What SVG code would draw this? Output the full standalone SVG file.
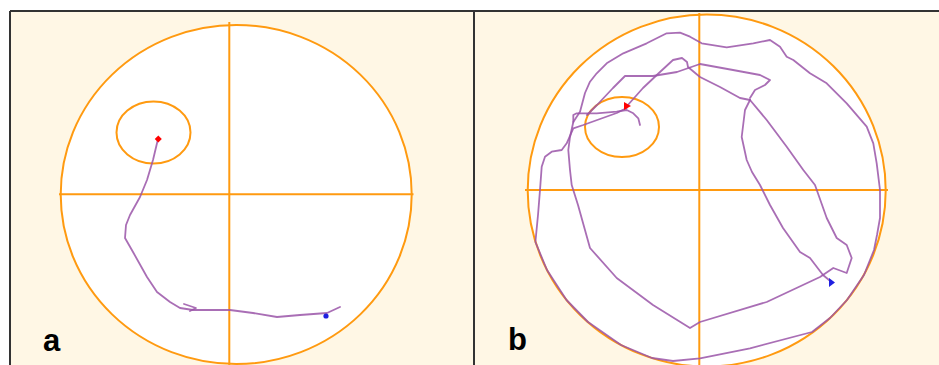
<svg xmlns="http://www.w3.org/2000/svg" width="939" height="365" viewBox="0 0 939 365">
<style>
.bg{fill:#FFF7E5}
.frame{stroke:#333;stroke-width:2;fill:none}
.pool{fill:#FFFFFF;stroke:#FF9A10;stroke-width:2}
.cross{stroke:#FF9A10;stroke-width:2;fill:none}
.plat{fill:none;stroke:#FF9A10;stroke-width:2}
.track{fill:none;stroke:#9A55A8;stroke-width:1.8;stroke-linejoin:round;stroke-linecap:round;opacity:0.85}
.lbl{font-family:"Liberation Sans",Arial,sans-serif;font-weight:bold;font-size:31px;fill:#000}
</style>
<rect x="0" y="0" width="939" height="365" fill="#FFFFFF"/>
<rect class="bg" x="10" y="11" width="929" height="354"/>

<g id="panel-a">
  <ellipse class="pool" cx="236.2" cy="194.5" rx="175.5" ry="169.5"/>
  <line class="cross" x1="59" y1="194.3" x2="413.5" y2="194.3"/>
  <line class="cross" x1="229.3" y1="22" x2="229.3" y2="365"/>
  <ellipse class="plat" cx="153.5" cy="132.5" rx="37" ry="31"/>
  <path class="track" d="M158,139 L153,160 L147,180 L140,197 L130,215 L126,225 L125,238 L133,252 L147,277 L157,292 L170,302 L180,308 L193,310 L230,310 L253,313 L277,317 L300,315 L327,313 L340,307"/>
  <path class="track" d="M184,304 L196,308 L190,311"/>
  <rect x="155.8" y="136.5" width="5" height="5" fill="#FF0000" transform="rotate(45 158.3 139)"/>
  <circle cx="326" cy="316" r="2.6" fill="#2020E0"/>
  <text class="lbl" x="43" y="351">a</text>
</g>

<g id="panel-b">
  <ellipse class="pool" cx="706.7" cy="190.5" rx="179" ry="176"/>
  <line class="cross" x1="525" y1="190" x2="888" y2="190"/>
  <line class="cross" x1="699.3" y1="13" x2="699.3" y2="365"/>
  <ellipse class="plat" cx="622" cy="127" rx="37" ry="30"/>
  <path class="track" d="M831.7,282.3 L823,275 L810,258 L800,252 L783,228 L770,205 L760,185 L752,172 L746.7,160 L741.7,137 L745,110 L750,100"/>
  <path class="track" d="M750,100 L766.7,120 L786.7,146.7 L803.3,170 L815,185 L826.7,218 L836.7,238 L846.7,245 L851.7,258 L846.7,273 L833.3,268 L820,277 L766.7,302 L700,322 L690,328 L653,305 L616.7,278 L590,248 L578,205 L571.7,185 L570,170 L568.3,150 L570,137 L573.3,122 L573.3,115 L576.7,113.3 L596.7,113.3 L616.7,111.7 L626.7,110 L633.3,113.3 L638.3,118.3 L640,125"/>
  <path class="track" d="M573.3,122 L580,111.7 L585,93 L590,81.7 L596.7,73.3 L606.7,63.3 L623.3,53.3 L646.7,43.3 L666.7,33.3 L680,32.7 L690,36.7 L701.7,43.3 L726.7,47.3 L753.3,43.3 L770,40 L780,46.7 L786.7,56.7 L793.3,60 L810,73.3 L826.7,83.3 L846.7,103.3 L866.7,126.7 L873.3,143.3 L876.7,163.3 L880,190 L880,218 L877,235 L874,250 L864,275 L847,300 L830,318 L812,332 L750,348.3 L700,358.3 L673,361 L652,358 L621,345 L588,322 L566.5,300 L547,270 L535.4,242 L538,215 L540,190 L541.7,166.7 L545,156.7 L551.7,151.7 L561.7,150 L566.7,143.3 L573.3,128.3 L583.3,125 L600,119 L616.7,113 L626.7,108"/>
  <path class="track" d="M587,115 L597,105 L613,88 L625,76 L653,76 L677,72 L700,64 L733,70 L760,75 L770,80 L765,85 L755,90 L750,98"/>
  <path class="track" d="M750,100 L740,98 L720,87 L700,77 L688,67 L687,62 L682,58 L673,60 L660,72 L643,88 L627,106"/>
  <polygon points="624,102 631,106 624,110" fill="#FF0000"/>
  <polygon points="829,278 835,282.5 829,287" fill="#2020E0"/>
  <text class="lbl" x="508" y="350">b</text>
</g>

<g id="frame">
  <line class="frame" x1="10" y1="11" x2="939" y2="11"/>
  <line class="frame" x1="10" y1="11" x2="10" y2="365"/>
  <line class="frame" x1="474" y1="11" x2="474" y2="365"/>
</g>
</svg>
